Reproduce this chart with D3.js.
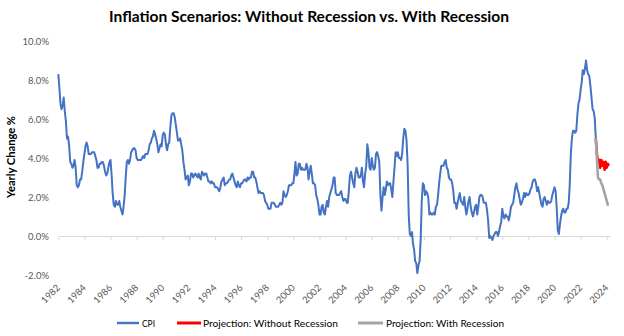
<!DOCTYPE html>
<html>
<head>
<meta charset="utf-8">
<script src="https://cdn.jsdelivr.net/npm/d3@7"></script>
<style>
  body { margin: 0; background: #fff; }
  svg { display: block; }
  text { font-family: Lato, "Open Sans", sans-serif; }
</style>
</head>
<body>
<svg id="chart" width="624" height="336"></svg>
<script>
// CPI yearly change (%), monthly, starting January 1982
const startYear = 1982;
const cpi1980s = [
  8.3, 7.6, 6.8, 6.5, 6.7, 7.1, 6.4, 5.9, 5.0, 5.1, 4.6, 3.8,
  3.7, 3.5, 3.6, 3.9, 3.5, 2.6, 2.5, 2.6, 2.9, 2.9, 3.3, 3.8,
  4.2, 4.6, 4.8, 4.6, 4.2, 4.2, 4.2, 4.3, 4.3, 4.3, 4.1, 3.9,
  3.5, 3.5, 3.7, 3.7, 3.8, 3.8, 3.6, 3.3, 3.1, 3.2, 3.5, 3.8,
  3.9, 3.1, 2.2, 1.6, 1.5, 1.8, 1.6, 1.6, 1.8, 1.5, 1.3, 1.1,
  1.5, 2.1, 3.0, 3.8, 3.9, 3.7, 3.9, 4.3, 4.4, 4.5, 4.5, 4.4,
  4.0, 3.9, 3.9, 3.9, 3.9, 4.0, 4.1, 4.0, 4.2, 4.2, 4.2, 4.4,
  4.7, 4.8, 5.0, 5.1, 5.4, 5.2, 5.0, 4.7, 4.3, 4.5, 4.7, 4.6
];
const cpi1990s = [
  5.2, 5.3, 5.2, 4.7, 4.4, 4.7, 4.8, 5.6, 6.2, 6.3, 6.3, 6.1,
  5.7, 5.3, 4.9, 4.9, 5.0, 4.7, 4.4, 3.8, 3.4, 2.9, 3.0, 3.1,
  2.6, 2.8, 3.2, 3.2, 3.0, 3.1, 3.2, 3.1, 3.0, 3.2, 3.0, 2.9,
  3.3, 3.2, 3.1, 3.2, 3.2, 3.0, 2.8, 2.8, 2.7, 2.8, 2.7, 2.7,
  2.5, 2.5, 2.5, 2.4, 2.3, 2.5, 2.8, 2.9, 3.0, 2.6, 2.7, 2.7,
  2.8, 2.9, 2.9, 3.1, 3.2, 3.0, 2.8, 2.6, 2.5, 2.8, 2.6, 2.5,
  2.7, 2.7, 2.8, 2.9, 2.9, 2.8, 3.0, 2.9, 3.0, 3.0, 3.3, 3.3,
  3.0, 3.0, 2.8, 2.5, 2.2, 2.3, 2.2, 2.2, 2.2, 2.1, 1.8, 1.7,
  1.6, 1.4, 1.4, 1.4, 1.7, 1.7, 1.7, 1.6, 1.5, 1.5, 1.5, 1.6,
  1.7, 1.6, 1.7, 2.3, 2.1, 2.0, 2.1, 2.3, 2.6, 2.6, 2.6, 2.7
];
const cpi2000s = [
  2.7, 3.2, 3.8, 3.1, 3.2, 3.7, 3.7, 3.4, 3.5, 3.4, 3.4, 3.4,
  3.7, 3.5, 2.9, 3.3, 3.6, 3.2, 2.7, 2.7, 2.6, 2.1, 1.9, 1.6,
  1.1, 1.1, 1.5, 1.6, 1.2, 1.1, 1.5, 1.8, 1.5, 2.0, 2.2, 2.4,
  2.6, 3.0, 3.0, 2.2, 2.1, 2.1, 2.1, 2.2, 2.3, 2.0, 1.8, 1.9,
  1.9, 1.7, 1.7, 2.3, 3.1, 3.3, 3.0, 2.7, 2.5, 3.2, 3.5, 3.3,
  3.0, 3.0, 3.1, 3.5, 2.8, 2.5, 3.2, 3.6, 4.7, 4.3, 3.5, 3.4,
  4.0, 3.6, 3.4, 3.5, 4.2, 4.3, 4.1, 3.8, 2.1, 1.3, 2.0, 2.5,
  2.1, 2.4, 2.8, 2.6, 2.7, 2.7, 2.4, 2.0, 2.8, 3.5, 4.3, 4.1,
  4.3, 4.0, 4.0, 3.9, 4.2, 5.0, 5.5, 5.4, 4.9, 3.7, 1.1, 0.1,
  0.0, 0.2, -0.4, -0.7, -1.3, -1.4, -1.9, -1.5, -1.3, -0.2, 1.8, 2.7
];
const cpi2010s = [
  2.6, 2.1, 2.3, 2.2, 2.0, 1.1, 1.2, 1.1, 1.1, 1.2, 1.1, 1.5,
  1.6, 2.1, 2.7, 3.2, 3.6, 3.6, 3.6, 3.8, 3.9, 3.5, 3.4, 3.0,
  2.9, 2.9, 2.7, 2.3, 1.7, 1.7, 1.4, 1.7, 2.0, 2.2, 1.8, 1.7,
  1.6, 2.0, 1.5, 1.1, 1.4, 1.8, 2.0, 1.5, 1.2, 1.0, 1.2, 1.5,
  1.6, 1.1, 1.5, 2.0, 2.1, 2.1, 2.0, 1.7, 1.7, 1.7, 1.3, 0.8,
  -0.1, 0.0, -0.1, -0.2, 0.0, 0.1, 0.2, 0.2, 0.0, 0.2, 0.5, 0.7,
  1.4, 1.0, 0.9, 1.1, 1.0, 1.0, 0.8, 1.1, 1.5, 1.6, 1.7, 2.1,
  2.5, 2.7, 2.4, 2.2, 1.9, 1.6, 1.7, 1.9, 2.2, 2.0, 2.2, 2.1,
  2.1, 2.2, 2.4, 2.5, 2.8, 2.9, 2.9, 2.7, 2.3, 2.5, 2.2, 1.9,
  1.6, 1.5, 1.9, 2.0, 1.8, 1.6, 1.8, 1.7, 1.7, 1.8, 2.1, 2.3
];
const cpi2020s = [
  2.5, 2.3, 1.5, 0.3, 0.1, 0.6, 1.0, 1.3, 1.4, 1.2, 1.2, 1.4,
  1.4, 1.7, 2.6, 4.2, 5.0, 5.4, 5.4, 5.3, 5.4, 6.2, 6.8, 7.0,
  7.5, 7.9, 8.5, 8.3, 8.6, 9.0, 8.5, 8.3, 8.2, 7.7, 7.1, 6.5,
  6.4, 6.0, 5.0
];

// Projections, monthly from the last CPI reading
const projWithoutRecession = [5.0, 4.2, 3.8, 3.9, 3.5, 3.9, 3.6, 3.8, 3.4, 3.8, 3.5, 3.7, 3.6];
const projWithRecession = [5.0, 4.0, 3.0, 2.9, 2.9, 2.7, 2.6, 2.4, 2.2, 2.0, 1.8, 1.6, 1.6];

const yTicks = [-2, 0, 2, 4, 6, 8, 10];
const tickYears = [1982, 1984, 1986, 1988, 1990, 1992, 1994, 1996, 1998, 2000, 2002,
  2004, 2006, 2008, 2010, 2012, 2014, 2016, 2018, 2020, 2022, 2024];

const seriesNames = ["CPI", "Projection: Without Recession", "Projection: With Recession"];
const seriesColors = ["#4472C4", "#FF0000", "#A5A5A5"];

// build dated points
const cpi = [].concat(cpi1980s, cpi1990s, cpi2000s, cpi2010s, cpi2020s)
  .map((v, i) => ({ date: new Date(startYear, i, 1), value: v }));
const projStart = cpi.length - 1;
const toPoints = arr => arr.map((v, i) => ({ date: new Date(startYear, projStart + i, 1), value: v }));
const series = [cpi, toPoints(projWithoutRecession), toPoints(projWithRecession)];

const svg = d3.select("#chart");

const x = d3.scaleTime()
  .domain([new Date(1982, 0, 1), new Date(2024, 3, 1)])
  .range([58.3, 610]);
const y = d3.scaleLinear().domain([-2, 10]).range([275, 41]);

// title
svg.append("text")
  .attr("x", 309).attr("y", 22)
  .attr("text-anchor", "middle")
  .attr("font-size", 15).attr("font-weight", "bold")
  .attr("fill", "#000")
  .attr("textLength", 400).attr("lengthAdjust", "spacingAndGlyphs")
  .text("Inflation Scenarios: Without Recession vs. With Recession");

// y axis title
svg.append("text")
  .attr("transform", `translate(15,157) rotate(-90)`)
  .attr("text-anchor", "middle")
  .attr("font-size", 12).attr("font-weight", "bold")
  .attr("fill", "#000")
  .attr("textLength", 82).attr("lengthAdjust", "spacingAndGlyphs")
  .text("Yearly Change %");

// y tick labels (no axis line)
const yAxis = svg.append("g")
  .attr("transform", "translate(49,0)")
  .call(d3.axisLeft(y).tickValues(yTicks).tickSize(0).tickPadding(0)
    .tickFormat(d => d.toFixed(1) + "%"));
yAxis.select(".domain").remove();
yAxis.selectAll("text")
  .attr("font-size", 9.5).attr("fill", "#595959")
  .style("font-family", "Lato, 'Open Sans', sans-serif");

// category axis along the zero line
const xAxis = svg.append("g")
  .attr("transform", `translate(0,${y(0)})`)
  .call(d3.axisBottom(x)
    .tickValues(tickYears.map(yr => new Date(yr, 0, 1)))
    .tickSize(4).tickSizeOuter(0).tickFormat(""));
xAxis.select(".domain").attr("stroke", "#d9d9d9");
xAxis.selectAll(".tick line").attr("stroke", "#d9d9d9");

// year labels below the plot, rotated
svg.append("g").selectAll("text")
  .data(tickYears)
  .join("text")
  .attr("transform", d => `translate(${x(new Date(d, 0, 1))},286) rotate(-45)`)
  .attr("dy", "0.35em")
  .attr("text-anchor", "end")
  .attr("font-size", 9.5).attr("fill", "#595959")
  .text(d => d);

// lines
const line = d3.line()
  .x(d => x(d.date))
  .y(d => y(d.value));

const lineWidths = [2, 2.6, 2.6];
series.forEach((s, i) => {
  svg.append("path")
    .datum(s)
    .attr("fill", "none")
    .attr("stroke", seriesColors[i])
    .attr("stroke-width", lineWidths[i])
    .attr("stroke-linejoin", "round")
    .attr("d", line);
});

// legend
const legendItems = [
  { x: 117, w: 22, tx: 142, tw: 13 },
  { x: 177, w: 24, tx: 203, tw: 135 },
  { x: 358, w: 25, tx: 386, tw: 118 }
];
const legend = svg.append("g");
legendItems.forEach((it, i) => {
  legend.append("line")
    .attr("x1", it.x).attr("x2", it.x + it.w)
    .attr("y1", 323).attr("y2", 323)
    .attr("stroke", seriesColors[i])
    .attr("stroke-width", lineWidths[i] + 0.4);
  legend.append("text")
    .attr("x", it.tx).attr("y", 326.5)
    .attr("font-size", 10).attr("fill", "#000")
    .attr("textLength", it.tw).attr("lengthAdjust", "spacingAndGlyphs")
    .text(seriesNames[i]);
});
</script>
</body>
</html>
